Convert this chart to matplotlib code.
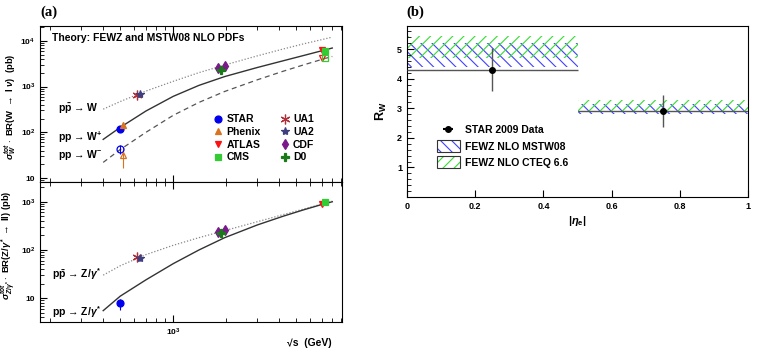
import matplotlib
matplotlib.use("Agg")
import matplotlib.pyplot as plt
import matplotlib.patches as mpatches
from matplotlib.lines import Line2D
from matplotlib.ticker import LogLocator, NullFormatter, FixedLocator, FixedFormatter, MultipleLocator

plt.rcParams["font.family"] = ["Liberation Sans", "DejaVu Sans"]
plt.rcParams["font.weight"] = "bold"
plt.rcParams["mathtext.fontset"] = "custom"
plt.rcParams["mathtext.rm"] = "Liberation Sans:bold"
plt.rcParams["mathtext.it"] = "Liberation Sans:italic:bold"
plt.rcParams["mathtext.bf"] = "Liberation Sans:bold"
plt.rcParams["hatch.linewidth"] = 0.8

# theory curves: sqrt(s) in GeV, cross section x BR in pb
theory_sqrts = [400, 500, 700, 1000, 1400, 1960, 3000, 4200, 5500, 7000, 8000]
w_ppbar = [320, 470, 796, 1300, 2010, 2950, 4670, 6580, 8560, 10600, 12000]
w_plus = [70, 128, 292, 610, 1060, 1650, 2600, 3640, 4760, 6060, 6930]
w_minus = [22, 42, 100, 235, 450, 780, 1400, 2150, 2970, 3920, 4540]
z_ppbar = [30, 47, 80, 125, 180, 252, 385, 540, 705, 900, 1030]
z_pp = [5.5, 11, 24, 52, 100, 180, 330, 500, 680, 880, 1000]

# measurements
exps = ["STAR", "Phenix", "ATLAS", "CMS", "UA1", "UA2", "CDF", "D0"]
exp_sqrts = {"STAR": [500], "Phenix": [515], "ATLAS": [7000], "CMS": [7250],
             "UA1": [620], "UA2": [650], "CDF": [1800, 1960], "D0": [1860]}
w_total = {"UA1": [650], "UA2": [680], "CDF": [2600, 2800], "D0": [2350]}
w_total_err = {"UA1": [60], "UA2": [50], "CDF": [150, 150], "D0": [130]}
w_plus_meas = {"STAR": [120], "Phenix": [144], "ATLAS": [6200], "CMS": [6000]}
w_plus_err = {"STAR": [15], "Phenix": [25], "ATLAS": [250], "CMS": [250]}
w_minus_meas = {"STAR": [43], "Phenix": [32], "ATLAS": [4250], "CMS": [4300]}
w_minus_err = {"STAR": [9], "Phenix": [15], "ATLAS": [180], "CMS": [180]}
z_meas = {"STAR": [7.8], "ATLAS": [880], "CMS": [990], "UA1": [72], "UA2": [67],
          "CDF": [232, 258], "D0": [221]}
z_err = {"STAR": [2.0], "ATLAS": [40], "CMS": [40], "UA1": [8], "UA2": [7],
         "CDF": [12, 12], "D0": [12]}

styles = {
    "STAR": dict(marker="o", color="#0000ee", ms=5),
    "Phenix": dict(marker="^", color="#d9731f", ms=5),
    "ATLAS": dict(marker="v", color="#ff1010", ms=5),
    "CMS": dict(marker="s", color="#33cc33", ms=5),
    "UA1": dict(marker=(6, 2, 0), color="#b0303a", ms=7),
    "UA2": dict(marker="*", color="#3f3f80", ms=6),
    "CDF": dict(marker="d", color="#7a1a8a", ms=5),
    "D0": dict(marker="P", color="#1a7a1a", ms=6),
}

# R_W vs |eta_e|
eta_edges = [0.0, 0.5, 1.0]
eta_centers = [0.25, 0.75]
rw = [4.3, 2.9]
rw_err = [0.73, 0.54]
mstw_low = [4.40, 2.80]
mstw_high = [5.21, 3.16]
cteq_low = [4.69, 2.89]
cteq_high = [5.45, 3.28]

fig = plt.figure(figsize=(7.63, 3.55), dpi=100)
ax_w = fig.add_axes([0.0524, 0.4873, 0.396, 0.4395])
ax_z = fig.add_axes([0.0524, 0.093, 0.396, 0.3943])
ax_r = fig.add_axes([0.5334, 0.445, 0.447, 0.4817])

tick_fs = 6
txt_fs = 7.5


def draw_points(ax, meas, errs, open_marker=False):
    for name in exps:
        if name not in meas:
            continue
        st = styles[name]
        face = "none" if open_marker else st["color"]
        ax.errorbar(exp_sqrts[name], meas[name], yerr=errs[name], fmt="none",
                    ecolor=st["color"], elinewidth=0.8, zorder=3)
        ax.plot(exp_sqrts[name], meas[name], linestyle="none", marker=st["marker"],
                ms=st["ms"], mfc=face, mec=st["color"], mew=0.9, zorder=4)


def style_log_x(ax, show_labels):
    ax.set_xscale("log")
    ax.set_xlim(175, 9100)
    ax.xaxis.set_major_locator(FixedLocator([1000]))
    ax.xaxis.set_minor_locator(LogLocator(base=10, subs=range(2, 10)))
    ax.xaxis.set_minor_formatter(NullFormatter())
    if show_labels:
        ax.xaxis.set_major_formatter(FixedFormatter([r"$10^3$"]))
    else:
        ax.xaxis.set_major_formatter(NullFormatter())
    ax.tick_params(which="both", direction="in", top=True, labelsize=tick_fs)
    ax.tick_params(which="major", length=5)
    ax.tick_params(which="minor", length=3)


# ---- W panel
ax_w.plot(theory_sqrts, w_ppbar, linestyle=(0, (1, 1.5)), color="#888888", lw=0.9)
ax_w.plot(theory_sqrts, w_plus, linestyle="-", color="#333333", lw=1.0)
ax_w.plot(theory_sqrts, w_minus, linestyle=(0, (4, 3)), color="#555555", lw=0.9)
draw_points(ax_w, w_total, w_total_err)
draw_points(ax_w, w_plus_meas, w_plus_err)
draw_points(ax_w, w_minus_meas, w_minus_err, open_marker=True)
style_log_x(ax_w, False)
ax_w.set_yscale("log")
ax_w.set_ylim(8.2, 21000)
ax_w.yaxis.set_major_locator(FixedLocator([10, 100, 1000, 10000]))
ax_w.yaxis.set_major_formatter(FixedFormatter(["10", r"$10^2$", r"$10^3$", r"$10^4$"]))
ax_w.yaxis.set_minor_locator(LogLocator(base=10, subs=range(2, 10)))
ax_w.yaxis.set_minor_formatter(NullFormatter())
ax_w.tick_params(axis="y", which="both", right=False)
ax_w.set_ylabel(r"$\sigma^{tot}_{W}\cdot$ BR(W $\rightarrow$ l $\nu$)  (pb)", fontsize=6.8,
                fontweight="bold")
ax_w.yaxis.set_label_coords(-0.072, 0.48)
ax_w.text(0.04, 0.925, "Theory: FEWZ and MSTW08 NLO PDFs", transform=ax_w.transAxes,
          fontsize=txt_fs, fontweight="bold", va="center")
ax_w.text(0.06, 0.47, "p$\\bar{\\rm p}$ \u2192 W", transform=ax_w.transAxes,
          fontsize=txt_fs, fontweight="bold", va="center")
ax_w.text(0.06, 0.285, "pp \u2192 W$^{+}$", transform=ax_w.transAxes,
          fontsize=txt_fs, fontweight="bold", va="center")
ax_w.text(0.06, 0.175, "pp \u2192 W$^{-}$", transform=ax_w.transAxes,
          fontsize=txt_fs, fontweight="bold", va="center")

handles = []
for name in exps:
    st = styles[name]
    handles.append(Line2D([], [], linestyle="none", marker=st["marker"], ms=st["ms"],
                          mfc=st["color"], mec=st["color"], mew=0.9, label=name))
ax_w.legend(handles=handles, ncol=2, loc="upper left", bbox_to_anchor=(0.545, 0.48),
            frameon=False, fontsize=txt_fs, handletextpad=0.2, columnspacing=1.7,
            labelspacing=0.25, handlelength=1.2, borderpad=0.2)

# ---- Z panel
ax_z.plot(theory_sqrts, z_ppbar, linestyle=(0, (1, 1.5)), color="#888888", lw=0.9)
ax_z.plot(theory_sqrts, z_pp, linestyle="-", color="#333333", lw=1.0)
draw_points(ax_z, z_meas, z_err)
style_log_x(ax_z, True)
ax_z.set_yscale("log")
ax_z.set_ylim(3.2, 2570)
ax_z.yaxis.set_major_locator(FixedLocator([10, 100, 1000]))
ax_z.yaxis.set_major_formatter(FixedFormatter(["10", r"$10^2$", r"$10^3$"]))
ax_z.yaxis.set_minor_locator(LogLocator(base=10, subs=range(2, 10)))
ax_z.yaxis.set_minor_formatter(NullFormatter())
ax_z.tick_params(axis="y", which="both", right=False)
ax_z.set_ylabel(r"$\sigma^{tot}_{Z/\gamma^{*}}\cdot$ BR(Z/$\gamma^{*}$ $\rightarrow$ ll) (pb)",
                fontsize=6.8, fontweight="bold")
ax_z.yaxis.set_label_coords(-0.072, 0.55)
ax_z.set_xlabel("\u221as  (GeV)", fontsize=txt_fs, fontweight="bold")
ax_z.xaxis.set_label_coords(0.89, -0.115)
ax_z.text(0.04, 0.34, "p$\\bar{\\rm p}$ \u2192 Z/$\\gamma^{*}$", transform=ax_z.transAxes,
          fontsize=txt_fs, fontweight="bold", va="center")
ax_z.text(0.04, 0.07, "pp \u2192 Z/$\\gamma^{*}$", transform=ax_z.transAxes,
          fontsize=txt_fs, fontweight="bold", va="center")

# ---- R_W panel
lefts = eta_edges[:-1]
widths = [eta_edges[i + 1] - eta_edges[i] for i in range(len(lefts))]
ax_r.bar(lefts, [h - l for h, l in zip(mstw_high, mstw_low)], width=widths,
         bottom=mstw_low, align="edge", fill=False, hatch="\\\\\\",
         edgecolor="#4040ff", linewidth=0, zorder=1)
ax_r.bar(lefts, [h - l for h, l in zip(cteq_high, cteq_low)], width=widths,
         bottom=cteq_low, align="edge", fill=False, hatch="///",
         edgecolor="#33dd33", linewidth=0, zorder=1)
ax_r.errorbar(eta_centers, rw, xerr=[w / 2 for w in widths], yerr=rw_err, fmt="o",
              color="black", ecolor="#555555", elinewidth=1.0, ms=4, capsize=0, zorder=3)
ax_r.set_xlim(0, 1)
ax_r.set_ylim(0, 5.78)
ax_r.yaxis.set_major_locator(FixedLocator([1, 2, 3, 4, 5]))
ax_r.yaxis.set_minor_locator(MultipleLocator(0.2))
ax_r.set_xticks([0, 0.2, 0.4, 0.6, 0.8, 1.0])
ax_r.set_xticklabels(["0", "0.2", "0.4", "0.6", "0.8", "1"])
ax_r.tick_params(which="both", direction="in", labelsize=6.5)
ax_r.tick_params(which="major", length=5)
ax_r.tick_params(which="minor", length=3)
ax_r.set_ylabel(r"R$_{\rm W}$", fontsize=9, fontweight="bold", labelpad=6)
ax_r.set_xlabel(r"|$\eta_{\rm e}$|", fontsize=8, fontweight="bold", labelpad=2)

star_h = ax_r.errorbar([], [], xerr=[], fmt="o", color="black", ecolor="black", ms=4)
mstw_h = (mpatches.Patch(fill=False, hatch="\\\\\\", edgecolor="#4040ff", linewidth=0),
          mpatches.Patch(fill=False, edgecolor="#333333", linewidth=0.8))
cteq_h = (mpatches.Patch(fill=False, hatch="///", edgecolor="#33dd33", linewidth=0),
          mpatches.Patch(fill=False, edgecolor="#333333", linewidth=0.8))
ax_r.legend([star_h, mstw_h, cteq_h],
            ["STAR 2009 Data", "FEWZ NLO MSTW08", "FEWZ NLO CTEQ 6.6"],
            loc="upper left", bbox_to_anchor=(0.06, 0.48), frameon=False, fontsize=txt_fs,
            handlelength=2.2, handleheight=1.3, labelspacing=0.45, handletextpad=0.5)

fig.text(0.053, 0.965, "(a)", fontsize=10.5, fontweight="bold", family="Liberation Serif",
         va="center")
fig.text(0.533, 0.965, "(b)", fontsize=10.5, fontweight="bold", family="Liberation Serif",
         va="center")

fig.savefig("out.png", dpi=100)
